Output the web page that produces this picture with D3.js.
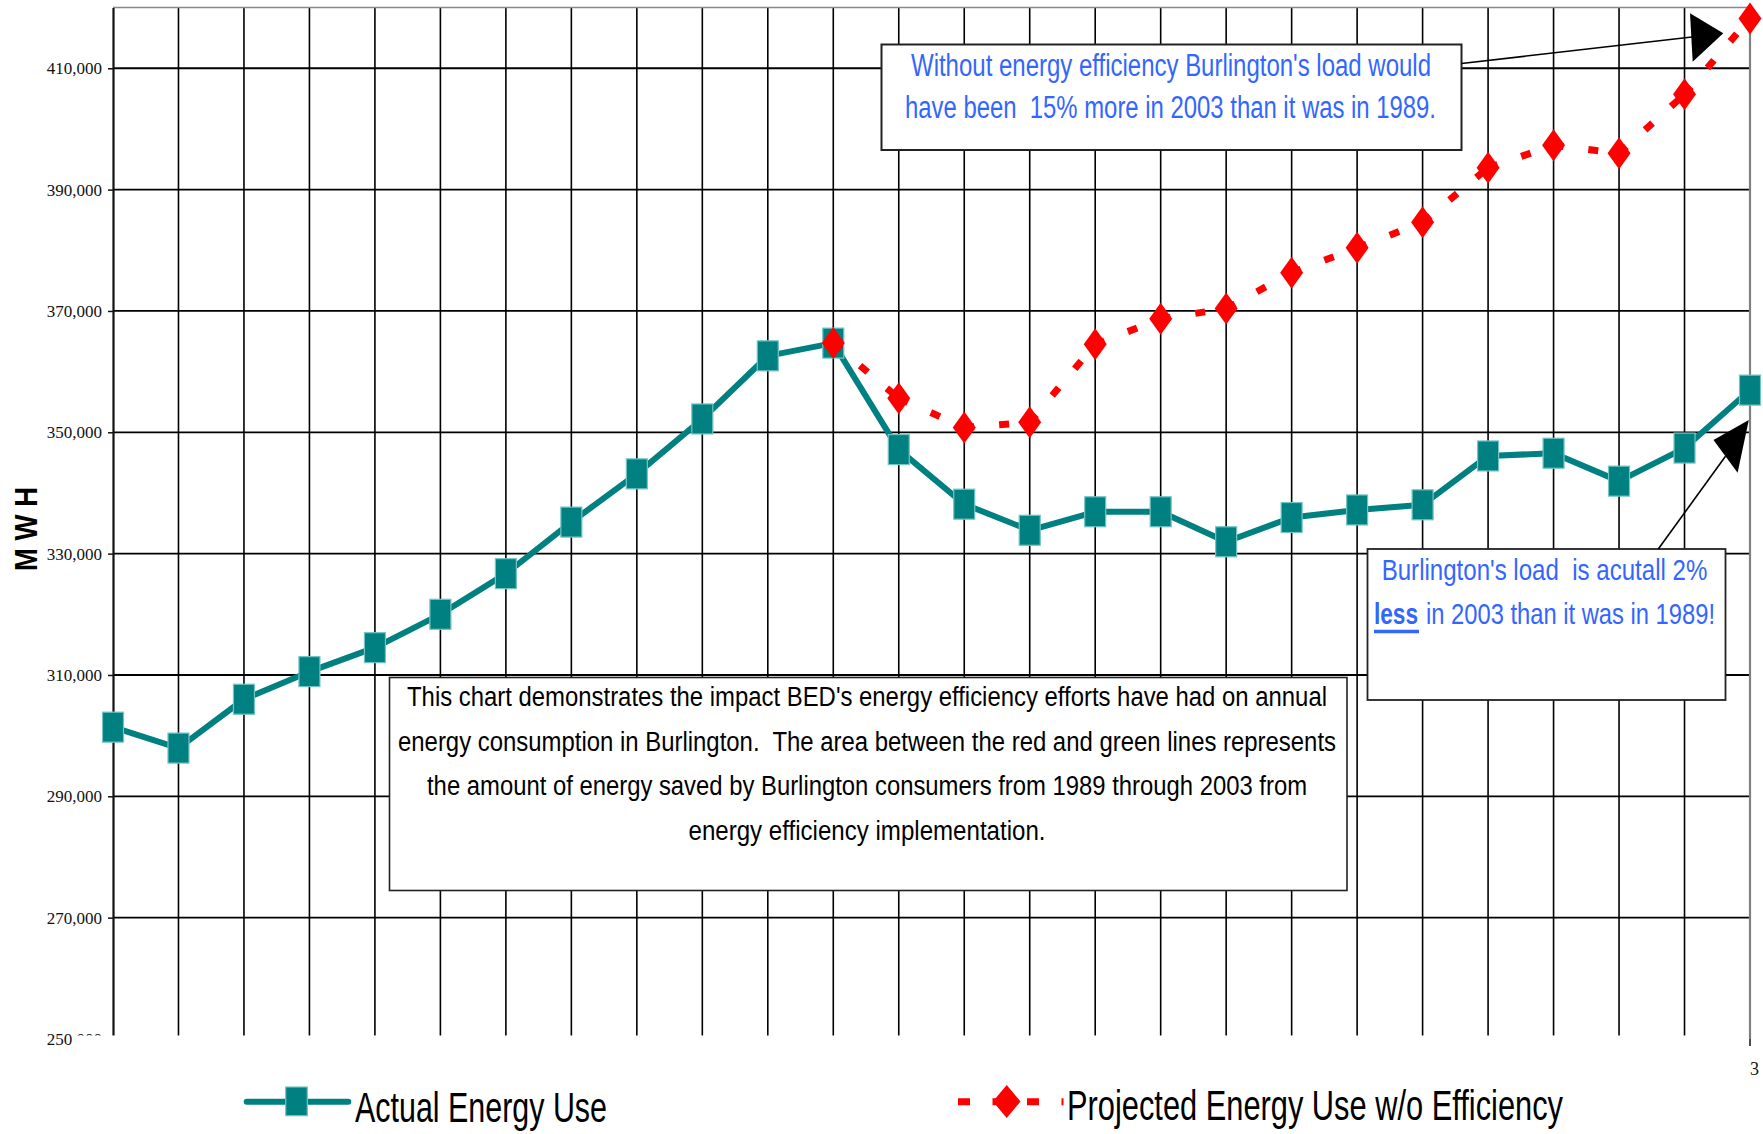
<!DOCTYPE html>
<html>
<head>
<meta charset="utf-8">
<script src="https://cdn.jsdelivr.net/npm/d3@7"></script>
<style>
  html, body { margin: 0; padding: 0; background: #fff; }
  svg { display: block; }
  text { white-space: pre; }
</style>
</head>
<body>
<svg id="chart" width="1763" height="1134"></svg>
<script>
// ---- data -------------------------------------------------------------
const periods = [1, 2, 3, 4, 5, 6, 7, 8, 9, 10, 11, 12, 13, 14, 15, 16, 17, 18, 19, 20, 21, 22, 23, 24, 25, 26];

// Actual annual load (MWH)
const actualUse = [301400, 297950, 306000, 310550, 314500, 320000, 326700, 335200, 343150,
                   352200, 362600, 364700, 347150, 338150, 333850, 336900, 336900, 331950,
                   335950, 337200, 338050, 346100, 346550, 341950, 347400, 356950];

// Projected load without efficiency programs, starting at period 12
const projectedPeriods = [12, 13, 14, 15, 16, 17, 18, 19, 20, 21, 22, 23, 24, 25, 26];
const projectedUse = [364700, 355600, 350800, 351650, 364500, 368700, 370400, 376300,
                      380400, 384600, 393600, 397300, 396000, 405700, 418200];

const yTicks = [250000, 270000, 290000, 310000, 330000, 350000, 370000, 390000, 410000];
const lastTickLabel = "3";
const yTitle = "M W H";
const seriesNames = ["Actual Energy Use", "Projected Energy Use w/o Efficiency"];

const noteMain = [
  "This chart demonstrates the impact BED's energy efficiency efforts have had on annual",
  "energy consumption in Burlington.  The area between the red and green lines represents",
  "the amount of energy saved by Burlington consumers from 1989 through 2003 from",
  "energy efficiency implementation."
];
const noteIncrease = [
  "Without energy efficiency Burlington's load would",
  "have been  15% more in 2003 than it was in 1989."
];
const noteDecrease = ["Burlington's load  is acutall 2%", "less", "in 2003 than it was in 1989!"];

// ---- layout -----------------------------------------------------------
const TEAL = "#008080", RED = "#ff0000", BLUE = "#3366ff";
const SANS = "'Liberation Sans', Arial, Helvetica, sans-serif";
const SERIF = "'Liberation Serif', 'Times New Roman', serif";

const plot = { left: 113, right: 1750, top: 7.6, bottom: 1039 };

const svg = d3.select("#chart");

const x = d3.scalePoint().domain(periods).range([plot.left, plot.right]);
const y = d3.scaleLinear().domain([250000, 420000]).range([plot.bottom, plot.top]);

// ---- grid ------------------------------------------------------------
const grid = svg.append("g");
grid.selectAll("line.h")
  .data(yTicks.filter(v => v > 250000))
  .join("line")
  .attr("x1", plot.left).attr("x2", plot.right)
  .attr("y1", d => y(d)).attr("y2", d => y(d))
  .attr("stroke", "#000").attr("stroke-width", 1.8);

grid.selectAll("line.v")
  .data(periods.slice(1))
  .join("line")
  .attr("x1", d => x(d)).attr("x2", d => x(d))
  .attr("y1", plot.top).attr("y2", plot.bottom)
  .attr("stroke", (d, i, a) => i === a.length - 1 ? "#808080" : "#000")
  .attr("stroke-width", (d, i, a) => i === a.length - 1 ? 2.2 : 1.6);

// top frame edge
grid.append("line")
  .attr("x1", plot.left).attr("x2", plot.right)
  .attr("y1", plot.top).attr("y2", plot.top)
  .attr("stroke", "#888").attr("stroke-width", 1.5);

// ---- y axis ------------------------------------------------------------
const yAxis = svg.append("g")
  .attr("transform", `translate(${plot.left},0)`)
  .call(d3.axisLeft(y).tickValues(yTicks).tickSize(5).tickSizeOuter(0).tickPadding(6)
        .tickFormat(d3.format(",")));
yAxis.select(".domain").attr("stroke", "#111").attr("stroke-width", 2.2);
yAxis.selectAll(".tick line").attr("stroke", "#111").attr("stroke-width", 1.5);
yAxis.selectAll(".tick text")
  .attr("font-family", SERIF).attr("font-size", 17).attr("fill", "#111");

svg.append("text")
  .attr("transform", "translate(36.5,529) rotate(-90)")
  .attr("text-anchor", "middle")
  .attr("font-family", SANS).attr("font-weight", "bold").attr("font-size", 31)
  .attr("textLength", 84).attr("lengthAdjust", "spacingAndGlyphs")
  .text(yTitle);

// ---- series ------------------------------------------------------------
const actualPts = periods.map((p, i) => [x(p), y(actualUse[i])]);
const projPts = projectedPeriods.map((p, i) => [x(p), y(projectedUse[i])]);

svg.append("path")
  .attr("d", d3.line()(actualPts))
  .attr("fill", "none").attr("stroke", TEAL).attr("stroke-width", 6)
  .attr("stroke-linejoin", "round");

svg.selectAll("rect.sq")
  .data(actualPts)
  .join("rect")
  .attr("x", d => d[0] - 10.5).attr("y", d => d[1] - 15)
  .attr("width", 21).attr("height", 30)
  .attr("fill", TEAL).attr("stroke", "#74c4c4").attr("stroke-width", 1.2);

// dashed projection, pattern restarting on every segment
const segs = d3.pairs(projPts);
svg.selectAll("path.seg")
  .data(segs)
  .join("path")
  .attr("d", d => d3.line()(d))
  .attr("fill", "none").attr("stroke", RED).attr("stroke-width", 7)
  .attr("stroke-dasharray", "10,25");

const diamond = (cx, cy, hw, hh) => `M${cx},${cy - hh}L${cx + hw},${cy}L${cx},${cy + hh}L${cx - hw},${cy}Z`;
svg.selectAll("path.dm")
  .data(projPts)
  .join("path")
  .attr("d", d => diamond(d[0], d[1], 11.5, 16))
  .attr("fill", RED);

// ---- annotation boxes ---------------------------------------------------
function box(x0, y0, w, h, sw) {
  svg.append("rect").attr("x", x0).attr("y", y0).attr("width", w).attr("height", h)
    .attr("fill", "#fff").attr("stroke", "#222").attr("stroke-width", sw);
}
function label(txt, xx, yy, size, len, anchor, color, weight) {
  return svg.append("text")
    .attr("x", xx).attr("y", yy)
    .attr("text-anchor", anchor)
    .attr("font-family", SANS).attr("font-size", size)
    .attr("font-weight", weight || "normal")
    .attr("fill", color)
    .attr("textLength", len).attr("lengthAdjust", "spacingAndGlyphs")
    .text(txt);
}

// main explanatory note
box(389.5, 677.5, 957.5, 213, 1.6);
const mainW = [920, 938, 880, 357];
noteMain.forEach((t, i) => label(t, 867, 706 + i * 44.5, 27, mainW[i], "middle", "#000"));

// increase note with arrow to the projected series end
box(881.5, 44.5, 580, 105.5, 2);
label(noteIncrease[0], 1171, 76, 31, 520, "middle", BLUE);
label(noteIncrease[1], 1170.5, 118, 31, 531, "middle", BLUE);
svg.append("line").attr("x1", 1461.5).attr("y1", 63.5).attr("x2", 1692).attr("y2", 37)
  .attr("stroke", "#000").attr("stroke-width", 1.6);
svg.append("path").attr("d", "M1690,13.3L1723.3,33.3L1692.7,61.7Z").attr("fill", "#000");

// decrease note with arrow to the actual series end
box(1367.5, 549, 358, 151, 1.8);
label(noteDecrease[0], 1381.7, 580, 30, 325.6, "start", BLUE);
label(noteDecrease[1], 1374, 624, 30, 44, "start", BLUE, "bold");
label(noteDecrease[2], 1426, 624, 30, 289, "start", BLUE);
svg.append("line").attr("x1", 1374).attr("x2", 1419).attr("y1", 631.5).attr("y2", 631.5)
  .attr("stroke", BLUE).attr("stroke-width", 3.6);
svg.append("line").attr("x1", 1658.3).attr("y1", 549).attr("x2", 1725.5).attr("y2", 456.3)
  .attr("stroke", "#000").attr("stroke-width", 1.6);
svg.append("path").attr("d", "M1748.8,420L1737.6,472.7L1713.5,440Z").attr("fill", "#000");

// ---- legend -------------------------------------------------------------
svg.append("rect").attr("x", 73).attr("y", 1035.5).attr("width", 1672).attr("height", 99)
  .attr("fill", "#fff");

// last category tick
svg.append("line").attr("x1", x(periods[periods.length - 1])).attr("x2", x(periods[periods.length - 1]))
  .attr("y1", 1039).attr("y2", 1046).attr("stroke", "#111").attr("stroke-width", 1.5);
svg.append("text").attr("x", x(periods[periods.length - 1])).attr("y", 1075)
  .attr("font-family", SERIF).attr("font-size", 18).attr("fill", "#111")
  .text(lastTickLabel);

svg.append("line").attr("x1", 246.7).attr("x2", 348.3).attr("y1", 1101.7).attr("y2", 1101.7)
  .attr("stroke", TEAL).attr("stroke-width", 6).attr("stroke-linecap", "round");
svg.append("rect").attr("x", 285.7).attr("y", 1087).attr("width", 21.6).attr("height", 28.7)
  .attr("fill", TEAL).attr("stroke", "#74c4c4").attr("stroke-width", 1.2);
label(seriesNames[0], 355, 1121.7, 42, 252, "start", "#000");

svg.append("line").attr("x1", 958).attr("x2", 1063.5).attr("y1", 1101.7).attr("y2", 1101.7)
  .attr("stroke", RED).attr("stroke-width", 7).attr("stroke-dasharray", "12,22.5");
svg.append("path").attr("d", diamond(1006.7, 1101.5, 13.8, 16.5)).attr("fill", RED);
label(seriesNames[1], 1067, 1120, 42, 496, "start", "#000");
</script>
</body>
</html>
